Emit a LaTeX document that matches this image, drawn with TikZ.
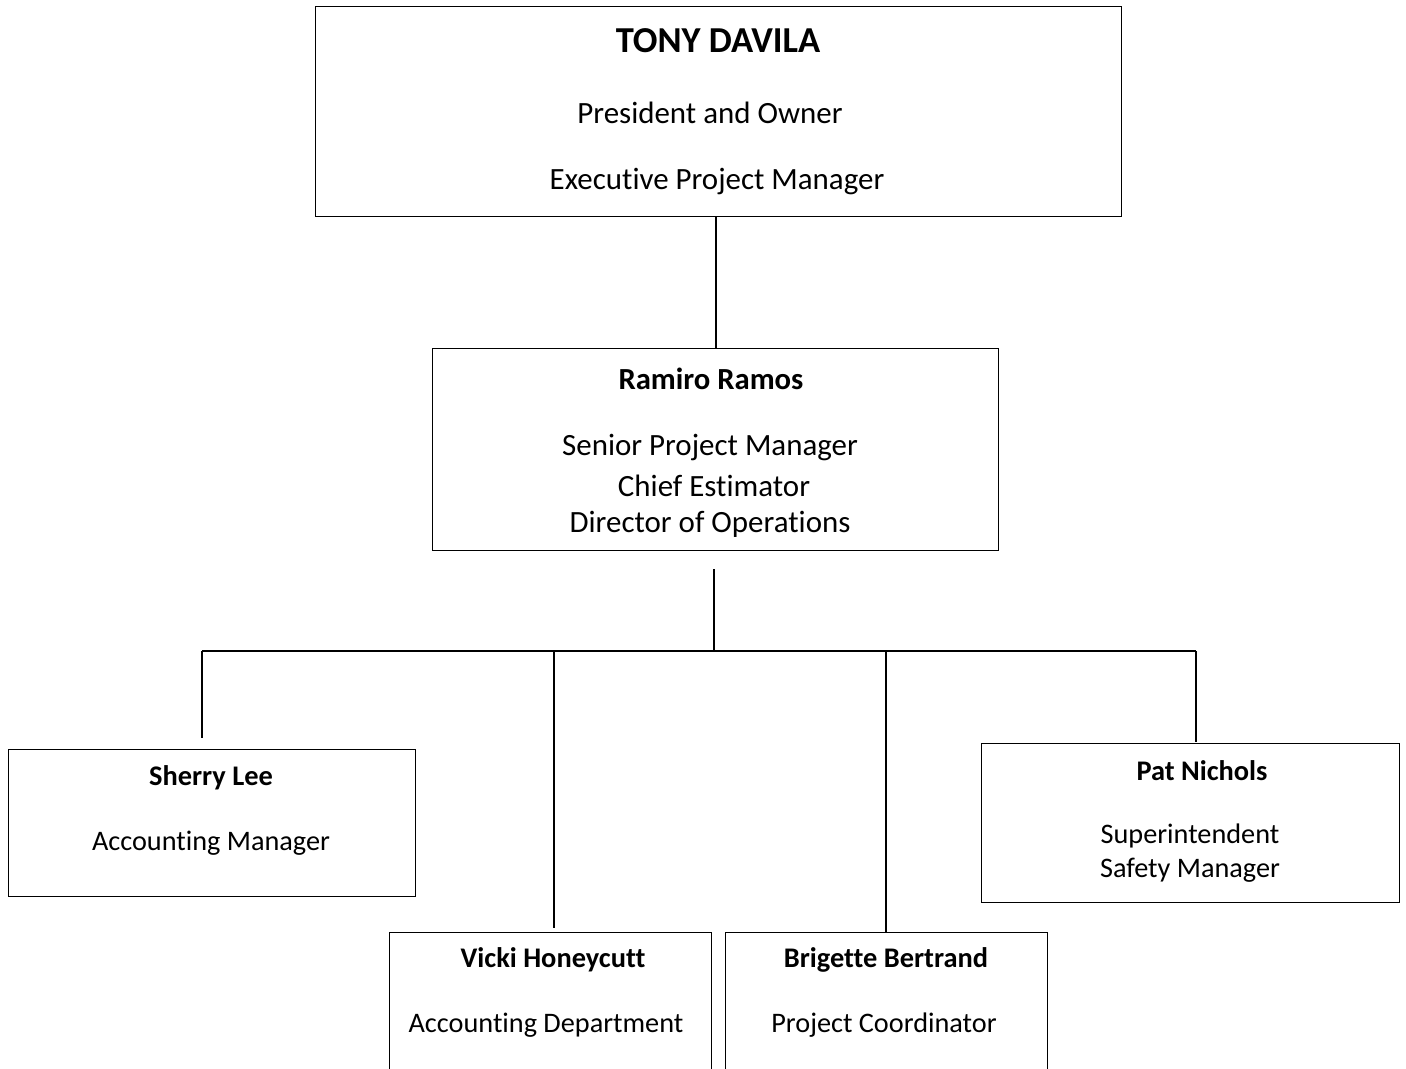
\documentclass[tikz,border=0pt]{standalone}
\usepackage{fontspec}
\setmainfont[Ligatures={NoCommon}]{Carlito}
\begin{document}
\begin{tikzpicture}[x=0.75pt,y=-0.75pt,
  orgbox/.style={draw=black,line width=1.1pt,rectangle,inner sep=0pt,anchor=north west},
  conn/.style={draw=black,line width=1.1pt},
  ttltext/.style={font=\fontsize{27.4}{30}\selectfont\bfseries,inner sep=0pt},
  nmtext/.style={font=\fontsize{23}{26}\selectfont\bfseries,inner sep=0pt},
  roletext/.style={font=\fontsize{23.2}{26}\selectfont,inner sep=0pt},
  lownm/.style={font=\fontsize{21.3}{24}\selectfont\bfseries,inner sep=0pt},
  lowrole/.style={font=\fontsize{21.2}{24}\selectfont,inner sep=0pt}]
\useasboundingbox (0,0) rectangle (1406,1068);
\clip (0,0) rectangle (1406,1068);
% boxes
\node[orgbox,minimum width=806*0.75pt,minimum height=210*0.75pt] (tony) at (315,6) {};
\node[orgbox,minimum width=566*0.75pt,minimum height=202*0.75pt] (ramiro) at (432,348) {};
\node[orgbox,minimum width=407*0.75pt,minimum height=147*0.75pt] (sherry) at (8,749) {};
\node[orgbox,minimum width=418*0.75pt,minimum height=159*0.75pt] (pat) at (981,743) {};
\node[orgbox,minimum width=322*0.75pt,minimum height=160*0.75pt] (vicki) at (389,932) {};
\node[orgbox,minimum width=322*0.75pt,minimum height=160*0.75pt] (brigette) at (725,932) {};
% texts
\node[ttltext] (t1) at (718,41) {TONY DAVILA};
\node[roletext] (t2) at (710,113) {President and Owner};
\node[roletext] (t3) at (717,182) {Executive Project Manager};
\node[nmtext] (r1) at (711,379) {Ramiro Ramos};
\node[roletext] (r2) at (710,448) {Senior Project Manager};
\node[roletext] (r3) at (714,486) {Chief Estimator};
\node[roletext] (r4) at (710,524) {Director of Operations};
\node[lownm] (s1) at (211,778) {Sherry Lee};
\node[lowrole] (s2) at (211,843) {Accounting Manager};
\node[lownm] (p1) at (1202,771) {Pat Nichols};
\node[lowrole] (p2) at (1190,836) {Superintendent};
\node[lowrole] (p3) at (1190,870) {Safety Manager};
\node[lownm] (v1) at (553,960) {Vicki Honeycutt};
\node[lowrole] (v2) at (546,1025) {Accounting Department};
\node[lownm] (b1) at (886,960) {Brigette Bertrand};
\node[lowrole] (b2) at (884,1025) {Project Coordinator};
% connectors
\coordinate (top) at (716,216);
\coordinate (bus) at (714,651);
\coordinate (busA) at (202,651);
\coordinate (busB) at (554,651);
\coordinate (busC) at (886,651);
\coordinate (busD) at (1196,651);
\draw[conn] (tony.south -| top) -- (ramiro.north -| top);
\draw[conn,shorten <=13.5pt] (ramiro.south -| bus) -- (bus);
\draw[conn] (busA) -- (busD);
\draw[conn,shorten >=8pt] (busA) -- (busA |- sherry.north);
\draw[conn,shorten >=3pt] (busB) -- (busB |- vicki.north);
\draw[conn] (busC) -- (busC |- brigette.north);
\draw[conn,shorten >=0.75pt] (busD) -- (busD |- pat.north);
\end{tikzpicture}
\end{document}
